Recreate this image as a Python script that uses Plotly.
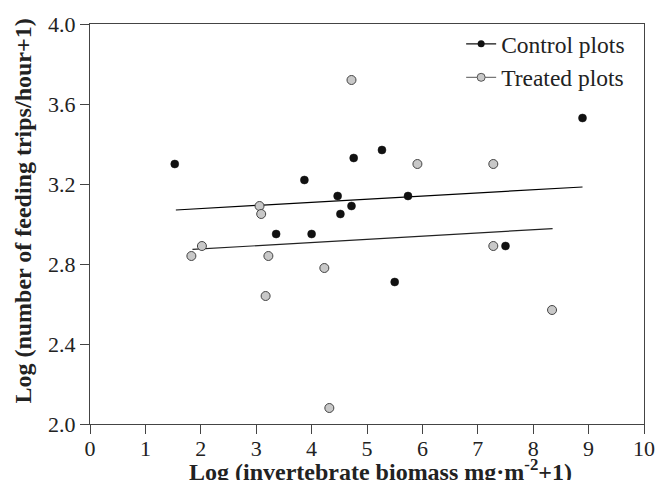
import plotly.graph_objects as go

# Control plots (black)
control_x = [1.53, 3.87, 3.36, 4.00, 4.47, 4.52, 4.72, 4.76, 5.27, 5.74, 5.50, 7.50, 8.89]
control_y = [3.30, 3.22, 2.95, 2.95, 3.14, 3.05, 3.09, 3.33, 3.37, 3.14, 2.71, 2.89, 3.53]
# Treated plots (grey)
treated_x = [1.83, 2.02, 3.06, 3.09, 3.17, 3.22, 4.23, 4.32, 4.72, 5.91, 7.28, 7.28, 8.34]
treated_y = [2.84, 2.89, 3.09, 3.05, 2.64, 2.84, 2.78, 2.08, 3.72, 3.30, 3.30, 2.89, 2.57]
# Fitted regression line end points
control_fit_x = [1.55, 8.89]
control_fit_y = [3.07, 3.185]
treated_fit_x = [1.85, 8.35]
treated_fit_y = [2.873, 2.977]

x_ticks = [0, 1, 2, 3, 4, 5, 6, 7, 8, 9, 10]
y_ticks = [2.0, 2.4, 2.8, 3.2, 3.6, 4.0]

x_title = "Log (invertebrate biomass mg·m<sup>-2</sup>+1)"
y_title = "Log (number of feeding trips/hour+1)"

FONT = "Liberation Serif"
TXT = "#222222"
fig = go.Figure()

fig.add_trace(go.Scatter(x=control_fit_x, y=control_fit_y, mode="lines",
                         line=dict(color="black", width=1.2), showlegend=False, hoverinfo="skip"))
fig.add_trace(go.Scatter(x=treated_fit_x, y=treated_fit_y, mode="lines",
                         line=dict(color="#222222", width=1.2), showlegend=False, hoverinfo="skip"))

fig.add_trace(go.Scatter(x=control_x, y=control_y, mode="markers",
                         marker=dict(color="#111111", size=8, line=dict(color="#111111", width=0.5)),
                         showlegend=False))
fig.add_trace(go.Scatter(x=treated_x, y=treated_y, mode="markers",
                         marker=dict(color="#c8c8c8", size=9, line=dict(color="#444444", width=1)),
                         showlegend=False))

# legend entries
fig.add_trace(go.Scatter(x=[None], y=[None], mode="lines+markers", name="Control plots",
                         legendgroup="c",
                         line=dict(color="#111111", width=1.2),
                         marker=dict(color="#111111", size=7)))
fig.add_trace(go.Scatter(x=[None], y=[None], mode="lines+markers", name="Treated plots",
                         legendgroup="t",
                         line=dict(color="#777777", width=1.2),
                         marker=dict(color="#c8c8c8", size=8, line=dict(color="#555555", width=1))))

fig.update_layout(
    width=658, height=480,
    margin=dict(l=90, r=14, t=24, b=56, autoexpand=False),
    paper_bgcolor="white", plot_bgcolor="white",
    font=dict(family=FONT, size=22, color=TXT),
    legend=dict(x=0.975, y=1.005, xanchor="right", yanchor="top",
                font=dict(family=FONT, size=23.5, color=TXT),
                bgcolor="rgba(0,0,0,0)", traceorder="grouped", tracegroupgap=0,
                itemwidth=30),
    xaxis=dict(range=[0, 10], tickvals=x_ticks, ticks="outside", ticklen=9, tickcolor="#444444",
               showline=True, linecolor="#444444", linewidth=1.2, mirror=True,
               showgrid=False, zeroline=False, automargin=False, ticklabelstandoff=-5,
               tickfont=dict(family=FONT, size=22, color=TXT)),
    yaxis=dict(range=[2.0, 4.0], tickvals=y_ticks, tickformat=".1f", ticks="outside", ticklen=9,
               tickcolor="#444444",
               showline=True, linecolor="#444444", linewidth=1.2, mirror=True,
               showgrid=False, zeroline=False, automargin=False,
               tickfont=dict(family=FONT, size=22, color=TXT)),
    annotations=[
        dict(text="<b>" + x_title + "</b>", xref="paper", yref="paper", x=0.524, y=0,
             yshift=-46, xanchor="center", yanchor="middle", showarrow=False,
             font=dict(family=FONT, size=24, color=TXT)),
        dict(text="<b>" + y_title + "</b>", xref="paper", yref="paper", x=0, y=0.531,
             xshift=-67, xanchor="center", yanchor="middle", textangle=-90, showarrow=False,
             font=dict(family=FONT, size=24, color=TXT)),
    ],
)

fig.write_html("out.html", config={"displayModeBar": False},
               post_script="document.body.style.margin='0';document.body.style.overflow='hidden';")
